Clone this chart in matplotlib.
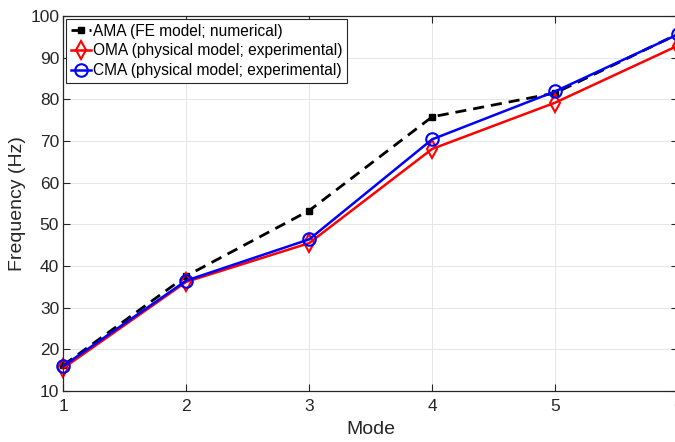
import matplotlib
matplotlib.use("Agg")
import matplotlib.pyplot as plt

plt.rcParams["font.family"] = ["Liberation Sans", "DejaVu Sans"]

modes = [1, 2, 3, 4, 5, 6]
ama = [16.2, 37.6, 53.3, 75.8, 81.5, 95.7]
oma = [15.5, 36.2, 45.5, 68.1, 79.2, 92.9]
cma = [16.0, 36.5, 46.4, 70.4, 81.9, 95.6]

fig = plt.figure(figsize=(6.75, 4.42), dpi=100)
# axes runs slightly past the right edge, like the cropped original
ax = fig.add_axes([0.0938, 0.1154, 0.9107, 0.8484])

ax.plot(modes, ama, "k--s", lw=2, ms=4, mfc="k", dashes=(4, 2.5),
        label="AMA (FE model; numerical)", clip_on=False)
ax.plot(modes, oma, "r-d", lw=1.8, ms=9, mfc="none", mew=1.5,
        label="OMA (physical model; experimental)", clip_on=False)
ax.plot(modes, cma, "b-o", lw=1.8, ms=9, mfc="none", mew=1.5,
        label="CMA (physical model; experimental)", clip_on=False)

ax.set_xlim(1, 6)
ax.set_ylim(10, 100)
ax.set_xticks(modes)
ax.set_yticks(range(10, 101, 10))
ax.grid(True, color="#e6e6e6", lw=0.7)
ax.tick_params(direction="in", top=True, right=True, labelsize=12.5,
               colors="#262626", length=5)
ax.tick_params(axis="y", pad=3)
ax.tick_params(axis="x", pad=6)
for s in ax.spines.values():
    s.set_color("#262626")
    s.set_linewidth(0.9)
ax.set_xlabel("Mode", fontsize=14, color="#262626", labelpad=5)
ax.set_ylabel("Frequency (Hz)", fontsize=14, color="#262626", labelpad=3)

leg = ax.legend(loc="upper left", fontsize=11.2, handlelength=1.3,
                handletextpad=0.1, borderpad=0.3, labelspacing=0.3,
                fancybox=False, framealpha=1, borderaxespad=0.2)
leg.get_frame().set_edgecolor("#262626")
leg.get_frame().set_linewidth(0.8)

fig.savefig("out.png", dpi=100)
